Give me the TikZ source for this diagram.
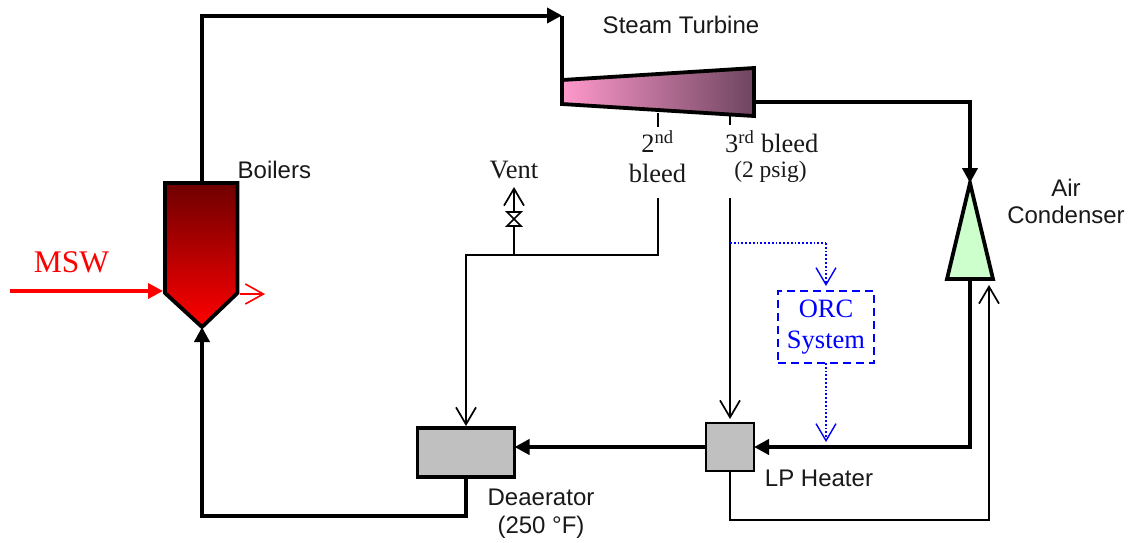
\documentclass[tikz,border=0pt]{standalone}
\usepackage{fontspec}
\setmainfont{Liberation Serif}
\newfontfamily\arialfont{Liberation Sans}
\usetikzlibrary{arrows.meta,calc}
\definecolor{boilertopc}{HTML}{6E0000}
\definecolor{turbleft}{HTML}{FF99CC}
\definecolor{turbright}{HTML}{6E4560}
\definecolor{condgreen}{HTML}{CCFFCC}
\definecolor{unitgray}{HTML}{C0C0C0}
\definecolor{orcnavy}{HTML}{000080}
\tikzset{
  thickpipe/.style={line width=4pt,-{Triangle[length=15pt,width=15pt]}},
  thickplain/.style={line width=4pt},
  thinpipe/.style={line width=1.7pt},
  thinarrow/.style={line width=1.7pt,-{Straight Barb[length=17pt,width=20pt]}},
  dotpipe/.style={blue,line width=1.4pt,dash pattern=on 1.8pt off 2pt},
  dotarrow/.style={dotpipe,-{Straight Barb[length=17pt,width=20pt]}},
  equip/.style={draw=black,line width=3.8pt,miter limit=10},
  sanslabel/.style={font=\arialfont\fontsize{24}{27}\selectfont,inner sep=0pt,align=center,text=black!90},
  seriflabel/.style={font=\fontsize{26.5}{30}\selectfont,inner sep=0pt,align=center,text=black!90},
}
\begin{document}
\begin{tikzpicture}[x=1pt,y=-1pt]
\useasboundingbox[fill=white] (0,0) rectangle (1130,542);
% junction coordinates
\coordinate (boilertop) at (202,183);
\coordinate (boilerbot) at (202,327);
\coordinate (c1) at (202,15.5);
\coordinate (turbin) at (562,15.5);
\coordinate (turbtl) at (562,80);
\coordinate (turbout) at (754,102);
\coordinate (c2) at (970,102);
\coordinate (condtop) at (970,183);
\coordinate (condbot) at (970,279);
\coordinate (c3) at (970,447);
\coordinate (c4) at (202,516);
\coordinate (c5) at (466,516);
\coordinate (mswstart) at (10,291);
\coordinate (mswend) at (163,291);
\coordinate (fluea) at (240,294);
\coordinate (flueb) at (265,294);
\coordinate (b2a) at (658,113);
\coordinate (b2b) at (658,127);
\coordinate (b2c) at (658,198);
\coordinate (b2d) at (658,255);
\coordinate (b2e) at (466,255);
\coordinate (b3a) at (730,116);
\coordinate (b3b) at (730,125);
\coordinate (b3c) at (730,198);
\coordinate (ventj) at (514,255);
\coordinate (ventv) at (514,226);
\coordinate (ventu) at (514,212);
\coordinate (ventt) at (514,187);
\coordinate (orcj) at (730,243);
\coordinate (orck) at (826,243);
\coordinate (orcin) at (826,286);
\coordinate (orcout) at (826,363);
\coordinate (orcend) at (826,442);
\coordinate (r1) at (730,520);
\coordinate (r2) at (989,520);
\coordinate (r3) at (989,285);
% equipment
\path[equip,top color=boilertopc,bottom color=red] (165,183) -- (237.5,183) -- (237.5,293) -- (boilerbot) -- (165,293) -- cycle;
\path[equip,left color=turbleft,right color=turbright] (turbtl) -- (754,68) -- (754,116) -- (562,104) -- cycle;
\path[equip,fill=condgreen] (condtop) -- (993,279) -- (947,279) -- cycle;
\node[equip,fill=unitgray,minimum width=97pt,minimum height=49pt,inner sep=0pt,outer sep=0pt] (deaerator) at (466,452.5) {};
\node[draw=black,line width=2pt,fill=unitgray,minimum width=48pt,minimum height=48pt,inner sep=0pt,outer sep=0pt] (lpheater) at (730,447) {};
\node[draw=orcnavy,dash pattern=on 8pt off 5pt,line width=2pt,blue,font=\fontsize{26.5}{31.5}\selectfont,align=center,minimum width=96pt,minimum height=72pt,inner sep=0pt] (orc) at (826,327) {ORC\\System};
% thick pipes
\draw[thickpipe] (boilertop) -- (c1) -- (turbin);
\draw[thickplain] (turbin) -- (turbtl);
\draw[thickpipe] (turbout) -- (c2) -- (condtop);
\draw[thickpipe] (condbot) -- (c3) -- (lpheater.east);
\draw[thickpipe] (lpheater.west) -- (lpheater.west -| deaerator.east);
\draw[thickpipe] (deaerator.south) -- (c5) -- (c4) -- (boilerbot);
% fuel
\draw[red,line width=3.4pt,-{Triangle[length=15pt,width=15pt]}] (mswstart) -- (mswend);
\draw[red,line width=1.6pt,-{Straight Barb[length=18pt,width=20pt]}] (fluea) -- (flueb);
% bleeds
\draw[line width=2pt] (b2a) -- (b2b);
\draw[line width=2pt] (b3a) -- (b3b);
\draw[thinarrow] (b2c) -- (b2d) -- (b2e) -- ($(deaerator.north)+(0,-2)$);
\draw[thinarrow] (b3c) -- ($(lpheater.north)+(0,-4)$);
\draw[thinpipe] (ventj) -- (ventv);
\draw[thinarrow] (ventu) -- (ventt);
\draw[thinpipe,line join=miter] (507,226) -- (521,226) -- (507,212) -- (521,212) -- cycle;
\draw[dotpipe] (orcj) -- (orck);
\draw[dotarrow] (orck) -- (orcin);
\draw[dotarrow] (orcout) -- (orcend);
\draw[thinarrow] (lpheater.south) -- (r1) -- (r2) -- (r3);
% labels
\node[sanslabel] (steam) at (681,25) {Steam Turbine};
\node[sanslabel,anchor=west] (boilers) at (237.5,170) {Boilers};
\node[sanslabel] (aircond) at (1066,201.5) {Air\\Condenser};
\node[sanslabel] (deaer) at (541,513.5) {Deaerator\\[1pt](250 °F)};
\node[sanslabel] (lplabel) at (819,478) {LP Heater};
\node[font=\fontsize{31.5}{36}\selectfont,text=red,inner sep=0pt] (msw) at (71.5,262) {MSW};
\node[seriflabel] (vent) at (514,170) {Vent};
\node[seriflabel] (b2) at (657.5,156.5) {2\textsuperscript{nd}\\bleed};
\node[seriflabel,anchor=west] (b3) at (725,142) {3\textsuperscript{rd} bleed};
\node[font=\fontsize{23.5}{27}\selectfont,inner sep=0pt,text=black!90] (psig) at (770.5,172) {(2 psig)};
\end{tikzpicture}
\end{document}
